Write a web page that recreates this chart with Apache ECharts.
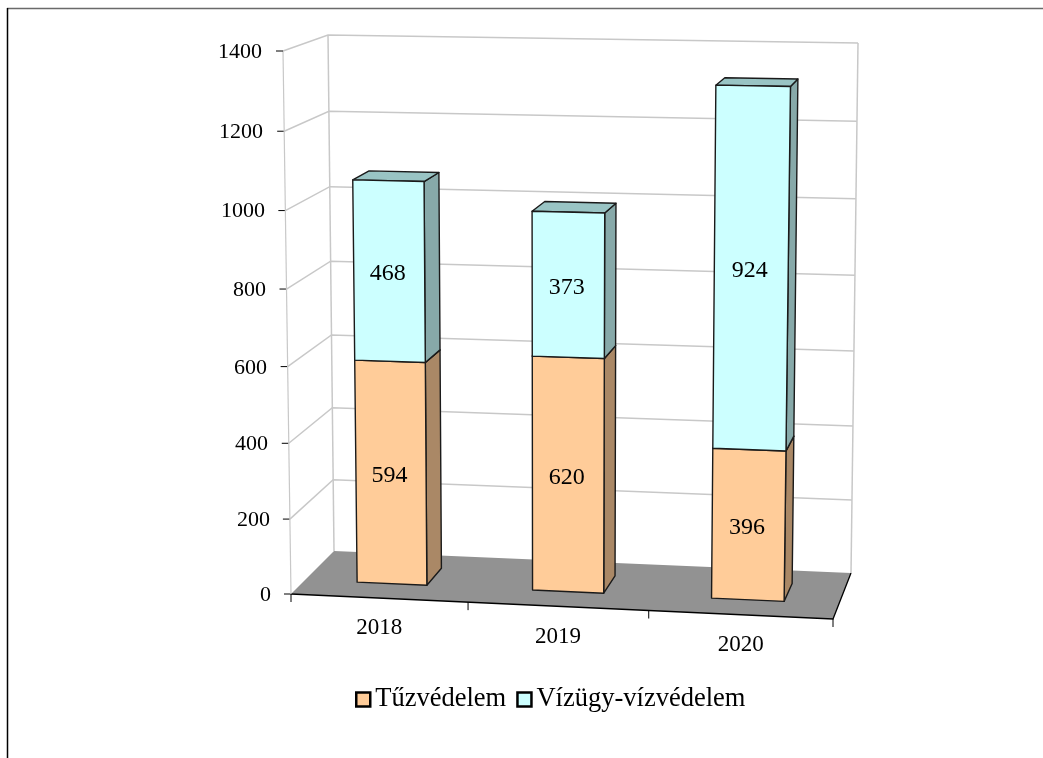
<!DOCTYPE html>
<html>
<head>
<meta charset="utf-8">
<title>Tűzvédelem, Vízügy-vízvédelem</title>
<style>
html,body{margin:0;padding:0;background:#fff;}
#main{width:1043px;height:758px;}
</style>
<script src="https://cdn.jsdelivr.net/npm/echarts@6/dist/echarts.min.js"></script>
</head>
<body>
<div id="main"></div>
<script>
var categories = ['2018', '2019', '2020'];
var yTicks = [0, 200, 400, 600, 800, 1000, 1200, 1400];
var tuzvedelem = [594, 620, 396];
var vizugy = [468, 373, 924];

var FONT = 'Liberation Serif';
// corners of the 3d box: [x,y], f=front b=back, l=left r=right, 0=floor 1=top
var box = {
	fl0: [291, 594], fr0: [833, 619], bl0: [334, 551], br0: [851, 573],
	fl1: [283, 51], fr1: [842, 61], bl1: [328, 35], br1: [858, 43]
};
var BAR_W0 = 0.33, BAR_W1 = 0.72, BAR_RATIO = 0.4;
var WARP_U = 0.03, WARP_V = 0.04;

function mix(a, b, t) {
	return [a[0] + (b[0] - a[0]) * t, a[1] + (b[1] - a[1]) * t];
}
// u,v,w all 0..1 -> pixel, the small warp stands in for the perspective
function project(u, v, w) {
	u = u - WARP_U * u * (1 - u);
	v = v - WARP_V * v * (1 - v);
	var f0 = mix(box.fl0, box.fr0, u), f1 = mix(box.fl1, box.fr1, u);
	var b0 = mix(box.bl0, box.br0, u), b1 = mix(box.bl1, box.br1, u);
	return mix(mix(f0, f1, v), mix(b0, b1, v), w);
}
function toUV(p, cs) {
	return [(p[0] - cs.x) / cs.width, (cs.y + cs.height - p[1]) / cs.height];
}
function line(pts, color, width) {
	return {
		type: 'polyline',
		shape: {points: pts},
		style: {stroke: color, lineWidth: width, fill: null}
	};
}

function renderWall(params, api) {
	var cs = params.coordSys;
	var val = api.value(0);
	var v = toUV(api.coord([0, val]), cs)[1];
	var kids = [];
	var grey = '#c8c8c8';
	if (val === 0) {
		kids.push({
			type: 'polygon',
			shape: {points: [project(0, 0, 0), project(1, 0, 0), project(1, 0, 1), project(0, 0, 1)]},
			style: {fill: '#929292'}
		});
		kids.push(line([project(0, 0, 0), project(1, 0, 0), project(1, 0, 1)], '#000', 1.3));
		// band edges of the category axis
		var band = api.size([1, 0])[0];
		for (var i = 0; i <= categories.length; i++) {
			var t = project(toUV([api.coord([0, 0])[0] + (i - 0.5) * band, 0], cs)[0], 0, 0);
			kids.push(line([t, [t[0], t[1] + 8]], '#000', 1));
		}
	} else {
		kids.push(line([project(0, v, 0), project(0, v, 1), project(1, v, 1)], grey, 1.5));
	}
	if (val === yTicks[yTicks.length - 1]) {
		kids.push(line([project(0, 0, 0), project(0, 1, 0)], grey, 1.2));
		kids.push(line([project(0, 0, 1), project(0, 1, 1)], grey, 1.5));
		kids.push(line([project(1, 0, 1), project(1, 1, 1)], grey, 1.5));
	}
	var a = project(0, v, 0);
	kids.push(line([[a[0] - 7, a[1]], a], '#000', 1));
	return {type: 'group', children: kids};
}

function makeBar(faces, base) {
	return function (params, api) {
		var cs = params.coordSys;
		var idx = api.value(0);
		var start = base ? base[idx] : 0;
		var half = api.size([1, 0])[0] * BAR_RATIO / 2;
		var mid = api.coord([idx, 0]);
		var u0 = toUV([mid[0] - half, mid[1]], cs)[0];
		var u1 = toUV([mid[0] + half, mid[1]], cs)[0];
		var v0 = toUV(api.coord([idx, start]), cs)[1];
		var v1 = toUV(api.coord([idx, start + api.value(1)]), cs)[1];
		var A = project(u0, v0, BAR_W0), B = project(u1, v0, BAR_W0);
		var C = project(u1, v1, BAR_W0), D = project(u0, v1, BAR_W0);
		var E = project(u1, v0, BAR_W1), F = project(u1, v1, BAR_W1), G = project(u0, v1, BAR_W1);
		var edge = {stroke: '#1a1a1a', lineWidth: 1.4, lineJoin: 'round'};
		return {
			type: 'group',
			children: [
				{type: 'polygon', shape: {points: [B, E, F, C]}, style: Object.assign({fill: faces[2]}, edge)},
				{type: 'polygon', shape: {points: [D, C, F, G]}, style: Object.assign({fill: faces[1]}, edge)},
				{type: 'polygon', shape: {points: [A, B, C, D]}, style: Object.assign({fill: faces[0]}, edge)},
				{
					type: 'text',
					style: {
						text: String(api.value(1)),
						x: (A[0] + B[0] + C[0] + D[0]) / 4 - 1.5,
						y: (A[1] + B[1] + C[1] + D[1]) / 4 + 3,
						align: 'center',
						verticalAlign: 'middle',
						font: '24px "' + FONT + '"',
						fill: '#000'
					}
				}
			]
		};
	};
}

function barData(arr) {
	return arr.map(function (val, i) { return [i, val]; });
}

// tick and category labels follow the slanted edges, so each gets its own padding
var yRich = {};
yTicks.forEach(function (t) {
	var v = t / 1400;
	yRich['t' + t] = {
		fontFamily: FONT,
		fontSize: 22,
		color: '#000',
		padding: [Math.round(2 * WARP_V * v * (1 - v) * 543) + 2, Math.round(v * 9), 0, 0]
	};
});
var xRich = {
	c0: {fontFamily: FONT, fontSize: 23, color: '#000', padding: [0, 4, 0, 0]},
	c1: {fontFamily: FONT, fontSize: 23, color: '#000', padding: [9, 8, 0, 0]},
	c2: {fontFamily: FONT, fontSize: 23, color: '#000', padding: [17, 4, 0, 0]}
};

var legendBorder = {borderColor: '#000', borderWidth: 2.5, borderType: 'solid'};

var myChart = echarts.init(document.getElementById('main'));
var option = {
	animation: false,
	backgroundColor: '#fff',
	textStyle: {fontFamily: FONT},
	grid: {left: 291, top: 51, width: 542, height: 543},
	graphic: [
		{type: 'line', shape: {x1: 7, y1: 8.5, x2: 1043, y2: 8.5}, style: {stroke: '#6a6a6a', lineWidth: 1.5}},
		{type: 'line', shape: {x1: 7.5, y1: 8, x2: 7.5, y2: 758}, style: {stroke: '#000', lineWidth: 1.5}}
	],
	legend: {
		left: 350,
		top: 681,
		icon: 'rect',
		itemWidth: 14,
		itemHeight: 14,
		itemGap: 10,
		data: [
			{name: 'Tűzvédelem', itemStyle: legendBorder},
			{name: 'Vízügy-vízvédelem', itemStyle: legendBorder}
		],
		textStyle: {fontFamily: FONT, fontSize: 26.5, color: '#000'}
	},
	xAxis: {
		type: 'category',
		data: categories,
		axisLine: {show: false},
		axisTick: {show: false},
		splitLine: {show: false},
		axisLabel: {
			margin: 22,
			formatter: function (val, i) { return '{c' + i + '|' + val + '}'; },
			rich: xRich
		}
	},
	yAxis: {
		type: 'value',
		min: 0,
		max: 1400,
		interval: 200,
		axisLine: {show: false},
		axisTick: {show: false},
		splitLine: {show: false},
		axisLabel: {
			margin: 20,
			formatter: function (val) { return '{t' + val + '|' + val + '}'; },
			rich: yRich
		}
	},
	series: [
		{
			name: 'wall',
			type: 'custom',
			renderItem: renderWall,
			data: yTicks.map(function (t) { return [t]; }),
			encode: {y: 0},
			silent: true,
			z: 1
		},
		{
			name: 'Tűzvédelem',
			type: 'custom',
			renderItem: makeBar(['#ffcc99', '#bf9973', '#aa8866']),
			data: barData(tuzvedelem),
			encode: {x: 0, y: 1},
			itemStyle: {color: '#ffcc99'},
			z: 2
		},
		{
			name: 'Vízügy-vízvédelem',
			type: 'custom',
			renderItem: makeBar(['#ccffff', '#99c4c4', '#87a9a9'], tuzvedelem),
			data: barData(vizugy),
			encode: {x: 0, y: 1},
			itemStyle: {color: '#ccffff'},
			z: 3
		}
	]
};
myChart.setOption(option);
</script>
</body>
</html>
